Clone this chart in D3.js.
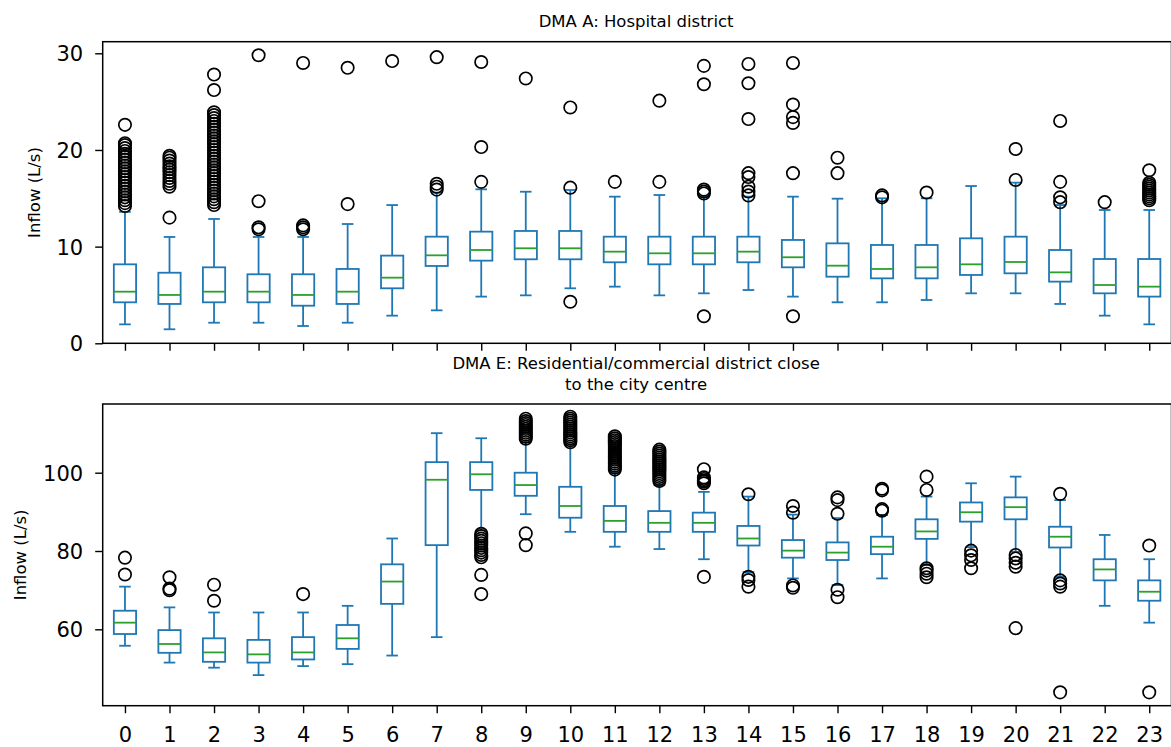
<!DOCTYPE html>
<html>
<head>
<meta charset="utf-8">
<script src="https://cdnjs.cloudflare.com/ajax/libs/d3/7.8.5/d3.min.js"></script>
<style>
    body { margin: 0; background: #fff; }
    svg { display: block; font-family: "DejaVu Sans", sans-serif; }
    .tick line { stroke: #000; stroke-width: 1.4; }
    .tick text { fill: #000; font-size: 21px; }
</style>
</head>
<body>
<div id="chart"></div>
<script>
//hours of the day (x categories)
var hours = [0, 1, 2, 3, 4, 5, 6, 7, 8, 9, 10, 11, 12, 13, 14, 15, 16, 17, 18, 19, 20, 21, 22, 23];

//DMA A tick values and box statistics
var ticksA = [0, 10, 20, 30];
var lowA = [1.96, 1.45, 2.13, 2.13, 1.79, 2.13, 2.86, 3.41, 4.83, 4.96, 5.69, 5.86, 4.96, 5.17, 5.51, 4.83, 4.24, 4.24, 4.48, 5.17, 5.17, 4.07, 2.86, 1.96];
var q1A = [4.24, 4.07, 4.24, 4.24, 3.89, 4.07, 5.69, 8.0, 8.55, 8.69, 8.69, 8.38, 8.17, 8.17, 8.38, 7.86, 6.89, 6.72, 6.72, 7.07, 7.24, 6.38, 5.17, 4.83];
var medA = [5.34, 5.0, 5.34, 5.34, 5.0, 5.34, 6.79, 9.1, 9.65, 9.83, 9.83, 9.48, 9.31, 9.31, 9.48, 8.9, 8.03, 7.69, 7.86, 8.17, 8.41, 7.34, 6.03, 5.86];
var q3A = [8.17, 7.3, 7.86, 7.14, 7.14, 7.69, 9.07, 11.03, 11.55, 11.62, 11.62, 11.03, 11.03, 11.03, 11.03, 10.69, 10.34, 10.17, 10.17, 10.86, 11.03, 9.65, 8.72, 8.72];
var highA = [13.6, 11.0, 12.86, 11.0, 11.0, 12.34, 14.3, 15.58, 15.93, 15.68, 15.86, 15.17, 15.34, 15.17, 15.17, 15.17, 14.96, 15.0, 15.0, 16.27, 16.62, 14.3, 13.79, 13.79];
var outA = [
    [14.2, 14.5, 14.8, 15.1, 15.4, 15.7, 16.0, 16.3, 16.6, 16.9, 17.2, 17.5, 17.8, 18.1, 18.4, 18.7, 19.0, 19.3, 19.6, 19.9, 20.2, 20.5, 20.7, 22.6],
    [13.0, 16.2, 16.5, 16.8, 17.1, 17.4, 17.7, 18.0, 18.3, 18.6, 18.9, 19.2, 19.4],
    [14.3, 14.6, 14.9, 15.2, 15.5, 15.8, 16.1, 16.4, 16.7, 17.0, 17.3, 17.6, 17.9, 18.2, 18.5, 18.8, 19.1, 19.4, 19.7, 20.0, 20.3, 20.6, 20.9, 21.2, 21.5, 21.8, 22.1, 22.4, 22.7, 23.0, 23.3, 23.6, 23.9, 26.2, 27.8],
    [11.8, 12.0, 14.7, 29.8],
    [11.8, 12.0, 12.2, 29.0],
    [14.4, 28.5],
    [29.2],
    [15.9, 16.2, 16.5, 29.6],
    [16.7, 20.3, 29.1],
    [27.4],
    [4.3, 16.1, 24.4],
    [16.7],
    [16.7, 25.1],
    [2.8, 15.5, 15.7, 15.9, 26.8, 28.7],
    [15.3, 15.7, 16.2, 17.2, 17.6, 23.2, 26.9, 28.9],
    [2.8, 17.6, 22.8, 23.4, 24.7, 29.0],
    [17.6, 19.2],
    [15.1, 15.3],
    [15.6],
    [],
    [16.9, 20.1],
    [14.6, 15.1, 16.7, 23.0],
    [14.6],
    [14.8, 15.0, 15.2, 15.4, 15.6, 15.8, 16.0, 16.2, 16.4, 16.6, 17.9]
];

//DMA E tick values and box statistics
var ticksE = [60, 80, 100];
var lowE = [55.8, 51.5, 50.2, 48.3, 50.6, 51.1, 53.3, 58.0, 85.3, 89.4, 84.9, 81.1, 80.5, 77.9, 74.6, 73.0, 71.3, 73.0, 76.4, 81.0, 79.8, 73.4, 66.0, 61.7];
var q1E = [58.8, 54.0, 51.7, 51.5, 52.3, 55.0, 66.5, 81.5, 95.6, 94.1, 88.5, 84.9, 84.9, 84.9, 81.4, 78.3, 77.7, 79.2, 83.1, 87.5, 88.1, 80.9, 72.5, 67.3];
var medE = [61.7, 56.25, 54.1, 53.6, 54.1, 57.7, 72.2, 98.2, 99.6, 96.85, 91.5, 87.7, 87.2, 87.2, 83.2, 80.1, 79.6, 81.1, 85.0, 89.9, 91.2, 83.65, 75.3, 69.6];
var q3E = [64.75, 59.8, 57.7, 57.3, 58.0, 61.1, 76.6, 102.7, 102.7, 100.0, 96.4, 91.5, 90.2, 89.8, 86.4, 82.8, 82.2, 83.65, 88.1, 92.4, 93.7, 86.2, 77.9, 72.5];
var highE = [70.9, 65.6, 64.3, 64.3, 64.3, 66.0, 83.2, 110.1, 108.8, 107.8, 107.2, 100.0, 96.8, 95.1, 93.9, 89.3, 88.4, 89.2, 93.9, 97.3, 99.0, 93.0, 84.1, 77.9];
var outE = [
    [74.0, 78.3],
    [70.0, 70.4, 73.3],
    [67.3, 71.4],
    [],
    [69.0],
    [],
    [],
    [],
    [69.0, 73.9, 78.4, 79.0, 79.6, 80.2, 80.8, 81.4, 82.0, 82.6, 83.2, 83.8, 84.4],
    [81.5, 84.5, 108.7, 109.2, 109.7, 110.2, 110.7, 111.2, 111.7, 112.2, 112.7, 113.2, 113.8],
    [107.8, 108.3, 108.8, 109.3, 109.8, 110.3, 110.8, 111.3, 111.8, 112.3, 112.8, 113.3, 113.8, 114.3],
    [100.8, 101.3, 101.8, 102.3, 102.8, 103.3, 103.8, 104.3, 104.8, 105.3, 105.8, 106.3, 106.8, 107.3, 107.8, 108.3, 108.8, 109.3],
    [97.9, 98.4, 98.9, 99.4, 99.9, 100.4, 100.9, 101.4, 101.9, 102.4, 102.9, 103.4, 103.9, 104.4, 104.9, 105.4, 105.9],
    [73.4, 97.3, 97.7, 98.0, 98.4, 98.8, 100.9],
    [70.9, 72.6, 73.4, 94.5],
    [70.6, 71.2, 89.8, 91.5],
    [68.2, 70.1, 89.5, 93.0, 93.7],
    [90.3, 90.7, 95.5, 95.9],
    [73.3, 74.2, 75.0, 75.6, 95.6, 99.0],
    [75.6, 77.7, 78.9, 80.1],
    [60.3, 76.0, 77.0, 78.1, 79.0],
    [43.9, 70.9, 71.7, 72.5, 94.6],
    [],
    [43.9, 81.4]
];

//svg dimensions
var svgW = 1171;
var svgH = 747;

var svg = d3.select("#chart").append("svg")
    .attr("width", svgW)
    .attr("height", svgH);

//shared x scale (one slot per hour)
var xScale = d3.scaleLinear()
    .domain([-0.5, 23.5])
    .range([102.7, 1171.5]);
var unit = xScale(1) - xScale(0);

//build the stats table for one panel
function makeRows(low, q1, med, q3, high, out) {
    return hours.map(function(h, i) {
        return {hour: h, low: low[i], q1: q1[i], med: med[i], q3: q3[i], high: high[i], out: out[i]};
    });
}

//draw one box plot panel
function drawPanel(rows, top, bottom, yDomain, yTicks, labelX, titleLines, titleY, showXLabels) {
    var yScale = d3.scaleLinear()
        .domain(yDomain)
        .range([bottom, top]);

    var g = svg.append("g");

    //whiskers
    g.selectAll(".whisker")
        .data(rows)
        .enter()
        .append("g")
        .each(function(d) {
            var el = d3.select(this);
            var cx = xScale(d.hour);
            el.append("line")
                .attr("x1", cx).attr("x2", cx)
                .attr("y1", yScale(d.q1)).attr("y2", yScale(d.low));
            el.append("line")
                .attr("x1", cx).attr("x2", cx)
                .attr("y1", yScale(d.q3)).attr("y2", yScale(d.high));
            el.append("line")
                .attr("x1", cx - unit * 0.13).attr("x2", cx + unit * 0.13)
                .attr("y1", yScale(d.low)).attr("y2", yScale(d.low));
            el.append("line")
                .attr("x1", cx - unit * 0.13).attr("x2", cx + unit * 0.13)
                .attr("y1", yScale(d.high)).attr("y2", yScale(d.high));
        })
        .attr("stroke", "#1f77b4")
        .attr("stroke-width", 1.8);

    //boxes
    g.selectAll(".box")
        .data(rows)
        .enter()
        .append("rect")
        .attr("x", d => xScale(d.hour) - unit * 0.25)
        .attr("width", unit * 0.5)
        .attr("y", d => yScale(d.q3))
        .attr("height", d => yScale(d.q1) - yScale(d.q3))
        .attr("fill", "none")
        .attr("stroke", "#1f77b4")
        .attr("stroke-width", 1.8);

    //medians
    g.selectAll(".median")
        .data(rows)
        .enter()
        .append("line")
        .attr("x1", d => xScale(d.hour) - unit * 0.25)
        .attr("x2", d => xScale(d.hour) + unit * 0.25)
        .attr("y1", d => yScale(d.med))
        .attr("y2", d => yScale(d.med))
        .attr("stroke", "#2ca02c")
        .attr("stroke-width", 1.8);

    //outliers
    var fliers = [];
    rows.forEach(function(d) {
        d.out.forEach(function(v) { fliers.push({hour: d.hour, value: v}); });
    });
    g.selectAll(".flier")
        .data(fliers)
        .enter()
        .append("circle")
        .attr("cx", d => xScale(d.hour))
        .attr("cy", d => yScale(d.value))
        .attr("r", 6.2)
        .attr("fill", "none")
        .attr("stroke", "#000")
        .attr("stroke-width", 1.7);

    //frame
    g.append("rect")
        .attr("x", xScale.range()[0])
        .attr("y", top)
        .attr("width", xScale.range()[1] - xScale.range()[0])
        .attr("height", bottom - top)
        .attr("fill", "none")
        .attr("stroke", "#000")
        .attr("stroke-width", 1.5);

    //y axis
    var leftAxis = d3.axisLeft(yScale)
        .tickValues(yTicks)
        .tickSize(7.5)
        .tickPadding(12);
    var yAxis = g.append("g")
        .attr("transform", `translate(${xScale.range()[0]}, 0)`)
        .call(leftAxis);
    yAxis.select(".domain").remove();
    yAxis.selectAll("text").attr("dy", "0.36em").style("font-family", "DejaVu Sans");

    //x axis
    var bottomAxis = d3.axisBottom(xScale)
        .tickValues(hours)
        .tickSize(7.5)
        .tickPadding(13.6)
        .tickFormat(showXLabels ? d3.format("d") : "");
    var xAxis = g.append("g")
        .attr("transform", `translate(0, ${bottom})`)
        .call(bottomAxis);
    xAxis.select(".domain").remove();
    xAxis.selectAll("text").style("font-family", "DejaVu Sans");

    //y label
    g.append("text")
        .attr("transform", `translate(${labelX}, ${(top + bottom) / 2}) rotate(-90)`)
        .attr("text-anchor", "middle")
        .attr("font-size", "16.5px")
        .text("Inflow (L/s)");

    //title
    var midX = (xScale.range()[0] + xScale.range()[1]) / 2;
    titleLines.forEach(function(line, i) {
        g.append("text")
            .attr("x", midX - 1)
            .attr("y", titleY + i * 20.5)
            .attr("text-anchor", "middle")
            .attr("font-size", "16.5px")
            .text(line);
    });
}

var rowsA = makeRows(lowA, q1A, medA, q3A, highA, outA);
var rowsE = makeRows(lowE, q1E, medE, q3E, highE, outE);

drawPanel(rowsA, 41.7, 343.3, [0, 31.2], ticksA, 39.8, ["DMA A: Hospital district"], 27.3, false);
drawPanel(rowsE, 404, 705.7, [40.49, 117.55], ticksE, 25.8,
    ["DMA E: Residential/commercial district close", "to the city centre"], 369, true);
</script>
</body>
</html>
